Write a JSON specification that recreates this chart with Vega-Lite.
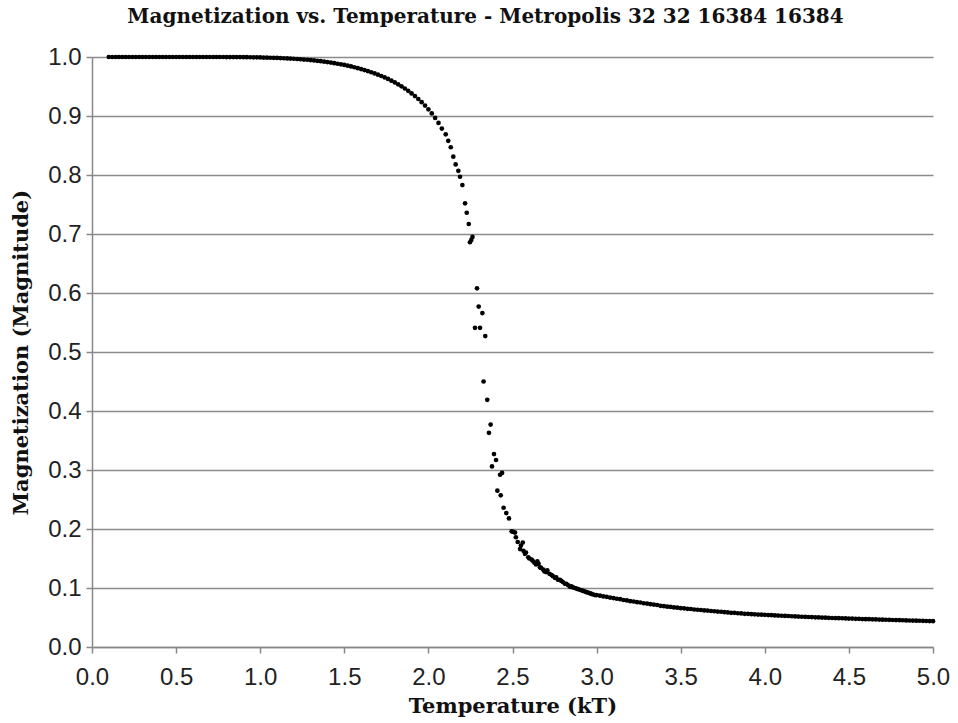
{
  "$schema": "https://vega.github.io/schema/vega-lite/v6.json",
  "width": 841,
  "height": 590,
  "autosize": {"type": "none"},
  "padding": {"left": 92, "top": 57, "right": 25, "bottom": 76},
  "background": "white",
  "title": {
    "text": "Magnetization vs. Temperature - Metropolis 32 32 16384 16384",
    "font": "DejaVu Serif",
    "fontSize": 20,
    "fontWeight": "bold",
    "color": "#111",
    "anchor": "middle",
    "frame": "group",
    "dx": -27,
    "offset": 18
  },
  "config": {
    "view": {"stroke": null},
    "axis": {
      "domainColor": "#888",
      "domainWidth": 1.5,
      "tickColor": "#888",
      "tickWidth": 1.5,
      "tickSize": 6,
      "labelFont": "Liberation Sans",
      "labelFontSize": 24,
      "labelColor": "#222",
      "labelFlush": false,
      "titleFont": "DejaVu Serif",
      "titleFontSize": 21,
      "titleFontWeight": "bold",
      "titleColor": "#111",
      "gridColor": "#8c8c8c",
      "gridWidth": 1.5
    }
  },
  "data": {
    "values": [
      {"t":0.10,"m":1},{"t":0.12,"m":1},{"t":0.14,"m":1},{"t":0.16,"m":1},{"t":0.18,"m":1},{"t":0.20,"m":1},{"t":0.22,"m":1},{"t":0.24,"m":1},{"t":0.26,"m":1},{"t":0.28,"m":1},
      {"t":0.30,"m":1},{"t":0.32,"m":1},{"t":0.34,"m":1},{"t":0.36,"m":1},{"t":0.38,"m":1},{"t":0.40,"m":1},{"t":0.42,"m":1},{"t":0.44,"m":1},{"t":0.46,"m":1},{"t":0.48,"m":1},
      {"t":0.50,"m":1},{"t":0.52,"m":1},{"t":0.54,"m":1},{"t":0.56,"m":1},{"t":0.58,"m":1},{"t":0.60,"m":1},{"t":0.62,"m":1},{"t":0.64,"m":1},{"t":0.66,"m":1},{"t":0.68,"m":1},
      {"t":0.70,"m":1},{"t":0.72,"m":1},{"t":0.74,"m":1},{"t":0.76,"m":1},{"t":0.78,"m":1},{"t":0.80,"m":0.9999},{"t":0.82,"m":0.9999},{"t":0.84,"m":0.9999},{"t":0.86,"m":0.9998},{"t":0.88,"m":0.9998},
      {"t":0.90,"m":0.9997},{"t":0.92,"m":0.9997},{"t":0.94,"m":0.9996},{"t":0.96,"m":0.9995},{"t":0.98,"m":0.9994},
      {"t":1.00,"m":0.9993},{"t":1.02,"m":0.9991},{"t":1.04,"m":0.9989},{"t":1.06,"m":0.9987},{"t":1.08,"m":0.9986},{"t":1.10,"m":0.9984},
      {"t":1.12,"m":0.9982},{"t":1.14,"m":0.9979},{"t":1.16,"m":0.9976},{"t":1.18,"m":0.9973},{"t":1.20,"m":0.9970},{"t":1.22,"m":0.9966},{"t":1.24,"m":0.9962},{"t":1.26,"m":0.9957},{"t":1.28,"m":0.9953},{"t":1.30,"m":0.9948},
      {"t":1.32,"m":0.9942},{"t":1.34,"m":0.9935},{"t":1.36,"m":0.9929},{"t":1.38,"m":0.9921},{"t":1.40,"m":0.9914},{"t":1.42,"m":0.9905},{"t":1.44,"m":0.9896},{"t":1.46,"m":0.9886},{"t":1.48,"m":0.9876},{"t":1.50,"m":0.9865},
      {"t":1.52,"m":0.9853},{"t":1.54,"m":0.9840},{"t":1.56,"m":0.9826},{"t":1.58,"m":0.9811},{"t":1.60,"m":0.9796},{"t":1.62,"m":0.9779},{"t":1.64,"m":0.9761},{"t":1.66,"m":0.9742},{"t":1.68,"m":0.9722},{"t":1.70,"m":0.9701},
      {"t":1.72,"m":0.9678},{"t":1.74,"m":0.9654},{"t":1.76,"m":0.9628},{"t":1.78,"m":0.9599},{"t":1.80,"m":0.9569},{"t":1.82,"m":0.9537},{"t":1.84,"m":0.9503},{"t":1.86,"m":0.9466},{"t":1.88,"m":0.9426},{"t":1.90,"m":0.9383},
      {"t":1.92,"m":0.9337},{"t":1.94,"m":0.9288},{"t":1.96,"m":0.9234},{"t":1.98,"m":0.9176},{"t":2.00,"m":0.9113},{"t":2.02,"m":0.9043},{"t":2.04,"m":0.8968},{"t":2.06,"m":0.8882},{"t":2.08,"m":0.8787},
      {"t":2.103,"m":0.869},{"t":2.118,"m":0.858},{"t":2.133,"m":0.847},{"t":2.148,"m":0.831},{"t":2.162,"m":0.818},{"t":2.178,"m":0.807},{"t":2.188,"m":0.797},{"t":2.202,"m":0.783},
      {"t":2.218,"m":0.752},{"t":2.228,"m":0.736},{"t":2.240,"m":0.717},{"t":2.247,"m":0.686},{"t":2.255,"m":0.690},{"t":2.262,"m":0.695},
      {"t":2.277,"m":0.541},{"t":2.289,"m":0.608},{"t":2.299,"m":0.577},{"t":2.307,"m":0.541},{"t":2.321,"m":0.566},{"t":2.338,"m":0.527},
      {"t":2.328,"m":0.450},{"t":2.350,"m":0.419},{"t":2.360,"m":0.363},{"t":2.370,"m":0.377},{"t":2.378,"m":0.306},{"t":2.390,"m":0.327},{"t":2.402,"m":0.317},
      {"t":2.410,"m":0.265},{"t":2.426,"m":0.292},{"t":2.430,"m":0.257},{"t":2.438,"m":0.295},{"t":2.447,"m":0.236},{"t":2.463,"m":0.227},{"t":2.479,"m":0.218},
      {"t":2.495,"m":0.196},{"t":2.505,"m":0.195},{"t":2.515,"m":0.194},{"t":2.520,"m":0.186},{"t":2.531,"m":0.178},{"t":2.545,"m":0.166},{"t":2.550,"m":0.172},{"t":2.561,"m":0.177},{"t":2.565,"m":0.163},
      {"t":2.574,"m":0.158},{"t":2.580,"m":0.160},{"t":2.594,"m":0.152},{"t":2.600,"m":0.150},{"t":2.614,"m":0.148},{"t":2.620,"m":0.146},{"t":2.630,"m":0.143},{"t":2.640,"m":0.140},{"t":2.648,"m":0.145},
      {"t":2.655,"m":0.141},{"t":2.663,"m":0.135},{"t":2.670,"m":0.134},{"t":2.683,"m":0.131},{"t":2.690,"m":0.128},{"t":2.700,"m":0.127},{"t":2.707,"m":0.130},{"t":2.720,"m":0.124},{"t":2.733,"m":0.122},
      {"t":2.740,"m":0.120},{"t":2.753,"m":0.117},{"t":2.760,"m":0.118},{"t":2.770,"m":0.114},{"t":2.782,"m":0.114},{"t":2.790,"m":0.112},{"t":2.800,"m":0.110},{"t":2.812,"m":0.107},{"t":2.820,"m":0.107},
      {"t":2.830,"m":0.105},{"t":2.842,"m":0.102},{"t":2.850,"m":0.103},{"t":2.860,"m":0.101},{"t":2.871,"m":0.100},{"t":2.880,"m":0.099},{"t":2.890,"m":0.098},{"t":2.901,"m":0.097},{"t":2.910,"m":0.096},
      {"t":2.920,"m":0.095},{"t":2.931,"m":0.094},{"t":2.940,"m":0.093},{"t":2.950,"m":0.092},{"t":2.961,"m":0.091},{"t":2.970,"m":0.090},{"t":2.980,"m":0.089},{"t":2.990,"m":0.088},{"t":3.000,"m":0.088},
      {"t":3.02,"m":0.0870},{"t":3.04,"m":0.0858},{"t":3.06,"m":0.0851},{"t":3.08,"m":0.0838},{"t":3.10,"m":0.0830},{"t":3.12,"m":0.0818},{"t":3.14,"m":0.0811},{"t":3.16,"m":0.0797},{"t":3.18,"m":0.0790},{"t":3.20,"m":0.0776},
      {"t":3.22,"m":0.0771},{"t":3.24,"m":0.0760},{"t":3.26,"m":0.0754},{"t":3.28,"m":0.0742},{"t":3.30,"m":0.0736},{"t":3.32,"m":0.0726},{"t":3.34,"m":0.0719},{"t":3.36,"m":0.0712},{"t":3.38,"m":0.0698},{"t":3.40,"m":0.0692},
      {"t":3.42,"m":0.0684},{"t":3.44,"m":0.0680},{"t":3.46,"m":0.0671},{"t":3.48,"m":0.0667},{"t":3.50,"m":0.0658},{"t":3.52,"m":0.0656},{"t":3.54,"m":0.0647},{"t":3.56,"m":0.0644},{"t":3.58,"m":0.0636},{"t":3.60,"m":0.0631},
      {"t":3.62,"m":0.0627},{"t":3.64,"m":0.0620},{"t":3.66,"m":0.0618},{"t":3.68,"m":0.0610},{"t":3.70,"m":0.0606},{"t":3.72,"m":0.0600},{"t":3.74,"m":0.0597},{"t":3.76,"m":0.0590},{"t":3.78,"m":0.0586},{"t":3.80,"m":0.0580},
      {"t":3.82,"m":0.0579},{"t":3.84,"m":0.0572},{"t":3.86,"m":0.0569},{"t":3.88,"m":0.0563},{"t":3.90,"m":0.0562},{"t":3.92,"m":0.0557},{"t":3.94,"m":0.0554},{"t":3.96,"m":0.0550},{"t":3.98,"m":0.0548},{"t":4.00,"m":0.0545},
      {"t":4.02,"m":0.0541},{"t":4.04,"m":0.0539},{"t":4.06,"m":0.0535},{"t":4.08,"m":0.0533},{"t":4.10,"m":0.0530},{"t":4.12,"m":0.0527},{"t":4.14,"m":0.0525},{"t":4.16,"m":0.0521},{"t":4.18,"m":0.0519},{"t":4.20,"m":0.0516},
      {"t":4.22,"m":0.0513},{"t":4.24,"m":0.0511},{"t":4.26,"m":0.0508},{"t":4.28,"m":0.0507},{"t":4.30,"m":0.0503},{"t":4.32,"m":0.0502},{"t":4.34,"m":0.0499},{"t":4.36,"m":0.0497},{"t":4.38,"m":0.0495},{"t":4.40,"m":0.0492},
      {"t":4.42,"m":0.0491},{"t":4.44,"m":0.0488},{"t":4.46,"m":0.0487},{"t":4.48,"m":0.0484},{"t":4.50,"m":0.0482},{"t":4.52,"m":0.0481},{"t":4.54,"m":0.0478},{"t":4.56,"m":0.0477},{"t":4.58,"m":0.0474},{"t":4.60,"m":0.0472},
      {"t":4.62,"m":0.0471},{"t":4.64,"m":0.0469},{"t":4.66,"m":0.0467},{"t":4.68,"m":0.0465},{"t":4.70,"m":0.0463},{"t":4.72,"m":0.0462},{"t":4.74,"m":0.0460},{"t":4.76,"m":0.0458},{"t":4.78,"m":0.0456},{"t":4.80,"m":0.0454},
      {"t":4.82,"m":0.0453},{"t":4.84,"m":0.0451},{"t":4.86,"m":0.0449},{"t":4.88,"m":0.0448},{"t":4.90,"m":0.0446},{"t":4.92,"m":0.0445},{"t":4.94,"m":0.0443},{"t":4.96,"m":0.0441},{"t":4.98,"m":0.0440},{"t":5.00,"m":0.0438}
    ]
  },
  "mark": {"type": "circle", "color": "#000", "size": 22, "opacity": 1},
  "encoding": {
    "x": {
      "field": "t",
      "type": "quantitative",
      "scale": {"domain": [0, 5], "nice": false, "zero": false},
      "axis": {
        "title": "Temperature (kT)",
        "values": [0, 0.5, 1, 1.5, 2, 2.5, 3, 3.5, 4, 4.5, 5],
        "format": ".1f",
        "grid": false,
        "labelPadding": 12,
        "titlePadding": 6
      }
    },
    "y": {
      "field": "m",
      "type": "quantitative",
      "scale": {"domain": [0, 1], "nice": false},
      "axis": {
        "title": "Magnetization (Magnitude)",
        "values": [0, 0.1, 0.2, 0.3, 0.4, 0.5, 0.6, 0.7, 0.8, 0.9, 1],
        "format": ".1f",
        "grid": true,
        "labelPadding": 5,
        "titlePadding": 16
      }
    }
  }
}
